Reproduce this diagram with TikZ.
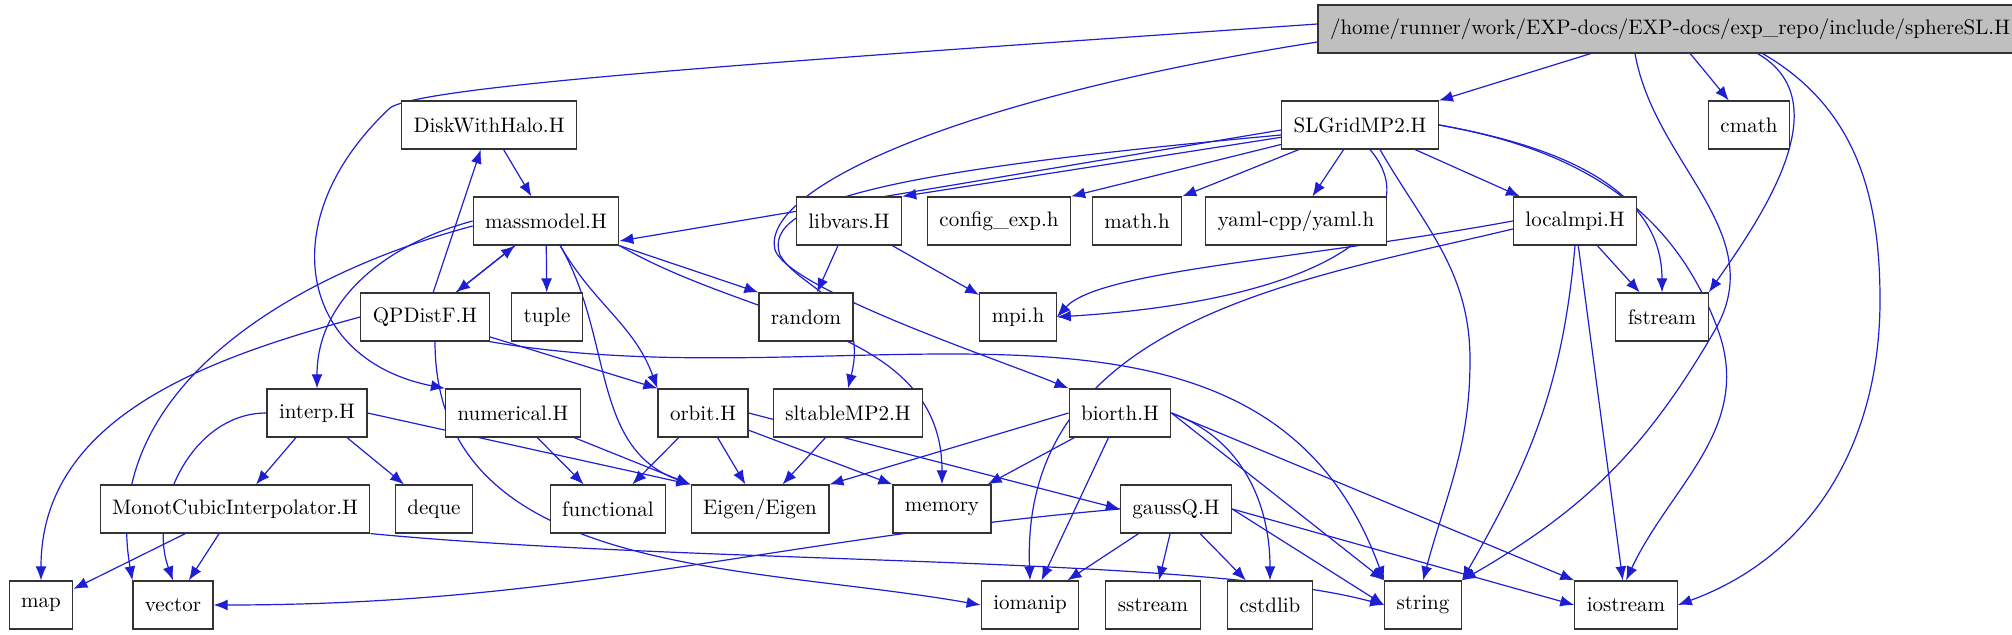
\documentclass[tikz,border=0pt]{standalone}
\usetikzlibrary{arrows.meta,backgrounds}
\definecolor{edgeblue}{RGB}{30,30,210}
\begin{document}
\begin{tikzpicture}[x=0.5pt,y=-0.5pt,
			filebox/.style={rectangle, draw=black!80, fill=white, semithick, minimum height=24pt, inner xsep=6pt, font=\fontsize{10.5}{12}\selectfont},
			topbox/.style={filebox, fill=black!25},
			inc/.style={draw=edgeblue, semithick, -{Latex[length=7pt,width=5.5pt]}},
			]
\useasboundingbox (0,0) rectangle (2012,635);

\node[topbox] (sphereSL) at (1670,29) {/home/runner/work/EXP-docs/EXP-docs/exp\_repo/include/sphereSL.H};
\node[filebox] (slgrid) at (1360,125) {SLGridMP2.H};
\node[filebox] (cmath) at (1749,125) {cmath};
\node[filebox] (diskhalo) at (489,125) {DiskWithHalo.H};
\node[filebox] (massmodel) at (546,221) {massmodel.H};
\node[filebox] (libvars) at (849,221) {libvars.H};
\node[filebox] (configexp) at (999,221) {config\_exp.h};
\node[filebox] (mathh) at (1137,221) {math.h};
\node[filebox] (yaml) at (1296,221) {yaml-cpp/yaml.h};
\node[filebox] (localmpi) at (1575,221) {localmpi.H};
\node[filebox] (qpdistf) at (425,317) {QPDistF.H};
\node[filebox] (tuple) at (547,317) {tuple};
\node[filebox] (random) at (806,317) {random};
\node[filebox] (mpih) at (1018,317) {mpi.h};
\node[filebox] (fstream) at (1662,317) {fstream};
\node[filebox] (interp) at (317,413) {interp.H};
\node[filebox] (numerical) at (513,413) {numerical.H};
\node[filebox] (orbit) at (703,413) {orbit.H};
\node[filebox] (sltable) at (848,413) {sltableMP2.H};
\node[filebox] (biorth) at (1120,413) {biorth.H};
\node[filebox] (monot) at (235,509) {MonotCubicInterpolator.H};
\node[filebox] (deque) at (434,509) {deque};
\node[filebox] (functional) at (608,509) {functional};
\node[filebox] (eigen) at (760,509) {Eigen/Eigen};
\node[filebox] (memory) at (942,509) {memory};
\node[filebox] (gaussq) at (1176,509) {gaussQ.H};
\node[filebox] (map) at (41,605) {map};
\node[filebox] (vector) at (173,605) {vector};
\node[filebox] (iomanip) at (1030,605) {iomanip};
\node[filebox] (sstream) at (1153,605) {sstream};
\node[filebox] (cstdlib) at (1270,605) {cstdlib};
\node[filebox] (string) at (1423,605) {string};
\node[filebox] (iostream) at (1626,605) {iostream};

\begin{scope}[on background layer]
% sphereSL.H
\draw[inc] (sphereSL) -- (slgrid);
\draw[inc] (sphereSL) -- (cmath);
\draw[inc] (sphereSL.south east) ++(-265,0) to[out=-30,in=55] (fstream.north east);
\draw[inc] (sphereSL.south east) ++(-260,0) to[out=-30,in=90] (1880,300) to[out=-90,in=20] (iostream.east);
\draw[inc] (sphereSL.south) ++(-35,0) to[out=-80,in=60] (1715,330) to[out=-120,in=30] (string.north east);
\draw[inc] (sphereSL.west) ++(0,-5) .. controls (800,60) and (420,85) .. (390,108)
  .. controls (270,220) and (300,360) .. (numerical.north west);
\draw[inc] (sphereSL.west) ++(0,13) .. controls (950,100) and (760,190) .. (775,250)
  .. controls (790,290) and (1000,360) .. (biorth.north west);

% SLGridMP2.H
\draw[inc] (slgrid.west) ++(0,5) -- ([yshift=-10pt]massmodel.east);
\draw[inc] (slgrid) -- (libvars.north east);
\draw[inc] (slgrid) -- (configexp.north east);
\draw[inc] (slgrid) -- (mathh.north east);
\draw[inc] (slgrid) -- (yaml);
\draw[inc] (slgrid) -- (localmpi);
\draw[inc] (slgrid.east) to[out=-10,in=90] (fstream.north);
\draw[inc] (slgrid.east) to[out=-10,in=110] (1718,330) to[out=-70,in=65] (iostream.north);
\draw[inc] (slgrid.south) ++(20,0) to[out=-60,in=90] (1470,360) to[out=-90,in=75] (string.north);
\draw[inc] (slgrid.south) ++(10,0) .. controls (1430,220) and (1330,300) .. (mpih.east);
\draw[inc] (slgrid.west) ++(0,10) .. controls (900,170) and (760,200) .. (780,255)
  .. controls (800,290) and (870,300) .. (sltable.north);

% localmpi.H
\draw[inc] (localmpi) -- (fstream);
\draw[inc] (localmpi) -- (iostream);
\draw[inc] (localmpi.south) to[out=-95,in=60] (string.north east);
\draw[inc] (localmpi.west) .. controls (1300,260) and (1100,270) .. (mpih.east);
\draw[inc] (localmpi.west) ++(0,8) .. controls (1300,280) and (1020,320) .. (iomanip.north);

% libvars.H
\draw[inc] (libvars) -- (random);
\draw[inc] (libvars) -- (mpih);

% DiskWithHalo.H and massmodel.H
\draw[inc] (diskhalo) -- (massmodel);
\draw[inc] (massmodel) -- (qpdistf);
\draw[inc] (massmodel) -- (tuple);
\draw[inc] (massmodel.south east) -- (random.north west);
\draw[inc] (massmodel) to[out=-60,in=110] (orbit.north west);
\draw[inc] (massmodel) to[out=-60,in=160] (eigen.north west);
\draw[inc] (massmodel.south east) to[out=-30,in=90] (memory.north);
\draw[inc] (massmodel.west) to[out=195,in=90] (interp.north);
\draw[inc] (massmodel.west) ++(0,5) to[out=195,in=100] (vector.north west);

% QPDistF.H
\draw[inc] (qpdistf) -- (diskhalo);
\draw[inc] (qpdistf) -- (massmodel);
\draw[inc] (qpdistf) -- (orbit.north west);
\draw[inc] (qpdistf.west) to[out=195,in=90] (map.north);
\draw[inc] (qpdistf.south east) to[out=-10,in=110] (string.north west);
\draw[inc] (qpdistf.south) ++(10,0) to[out=-90,in=170] (iomanip.west);

% interp.H
\draw[inc] (interp) -- (monot);
\draw[inc] (interp) -- (deque);
\draw[inc] (interp.east) -- (eigen.north west);
\draw[inc] (interp.west) to[out=180,in=110] (vector.north);

% numerical.H, orbit.H, sltableMP2.H
\draw[inc] (numerical) -- (functional);
\draw[inc] (numerical) -- (eigen.north west);
\draw[inc] (orbit) -- (functional);
\draw[inc] (orbit) -- (eigen);
\draw[inc] (orbit) -- (memory.north west);
\draw[inc] (orbit.east) -- (gaussq.west);
\draw[inc] (sltable) -- (eigen);

% biorth.H
\draw[inc] (biorth.west) -- (eigen.north east);
\draw[inc] (biorth) -- (memory);
\draw[inc] (biorth) -- (iomanip);
\draw[inc] (biorth.east) to[out=-20,in=90] (cstdlib.north);
\draw[inc] (biorth.east) -- (string.north west);
\draw[inc] (biorth.east) -- (iostream.north west);

% gaussQ.H
\draw[inc] (gaussq) -- (iomanip);
\draw[inc] (gaussq) -- (sstream);
\draw[inc] (gaussq) -- (cstdlib);
\draw[inc] (gaussq.east) -- (string.west);
\draw[inc] (gaussq.east) -- (iostream.west);
\draw[inc] (gaussq.west) to[out=185,in=0] (vector.east);

% MonotCubicInterpolator.H
\draw[inc] (monot) -- (map);
\draw[inc] (monot) -- (vector);
\draw[inc] (monot.south east) .. controls (700,565) and (1200,555) .. (string.west);
\end{scope}
\end{tikzpicture}
\end{document}
